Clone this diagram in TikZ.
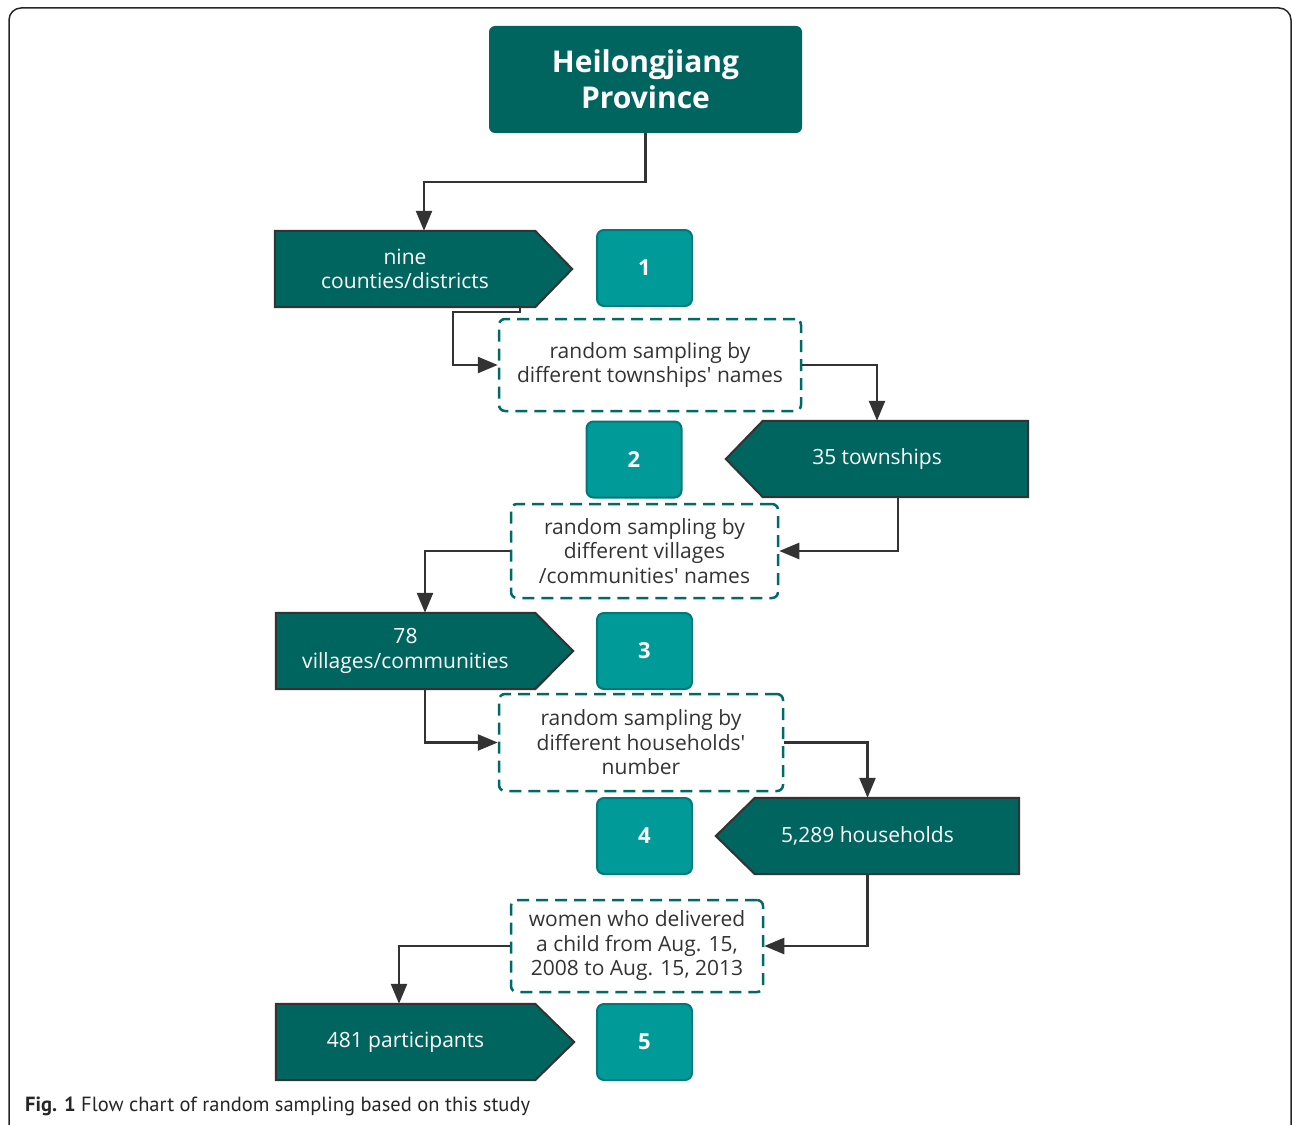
\documentclass[tikz,border=0pt]{standalone}
\usepackage{fontspec}
\setmainfont{Open Sans}
\newfontfamily\capfont{PT Sans}
\usetikzlibrary{arrows.meta,calc,backgrounds}
\definecolor{dteal}{HTML}{00645F}
\definecolor{lteal}{HTML}{009A98}
\definecolor{lborder}{HTML}{00787A}
\definecolor{dashc}{HTML}{006B66}
\definecolor{linec}{HTML}{333333}
\definecolor{txtc}{HTML}{333333}
\newcommand{\apos}{\textquotesingle}
\begin{document}
\begin{tikzpicture}[x=1pt,y=-1pt,
  body/.style={draw=none, minimum width=#1, minimum height=76pt, inner sep=0pt,
    text=white, align=center, font=\fontsize{21}{24.5}\selectfont},
  pent/.style={fill=dteal, draw=linec, line width=2pt},
  numbox/.style={fill=lteal, draw=lborder, line width=2pt, rounded corners=7pt,
    minimum width=95pt, minimum height=76pt, inner sep=0pt, text=white,
    font=\fontsize{22}{24}\selectfont\bfseries},
  dbox/.style={draw=dashc, line width=2.5pt, dash pattern=on 12pt off 7pt,
    rounded corners=6pt, minimum width=#1, inner sep=0pt, text=txtc,
    align=center, font=\fontsize{21}{24.5}\selectfont},
  conn/.style={draw=linec, line width=2.5pt, -{Triangle[length=20pt,width=16pt]}},
  title/.style={fill=dteal, rounded corners=6pt, minimum width=313pt,
    minimum height=107pt, inner sep=0pt, text=white, align=center,
    font=\fontsize{30}{36}\selectfont\bfseries}
]
\useasboundingbox (0,0) rectangle (1292,1124);
\draw[draw=black!85, line width=1.5pt, rounded corners=12pt] (9,8) rectangle (1291,1140);

\node[title] (prov) at (645.5,79.5) {Heilongjiang\\Province};

\node[body=260pt] (nine) at (405,269) {nine\\counties/districts};
\node[numbox] (n1) at (644.5,268) {1};
\node[dbox=302pt, minimum height=92pt] (d1) at (650,365) {random sampling by\\different townships\apos{} names};

\node[numbox] (n2) at (634,459.5) {2};
\node[body=302pt] (town) at (877,459) {35 townships};
\node[dbox=267pt, minimum height=94pt] (d2) at (644.5,551) {random sampling by\\different villages\\/communities\apos{} names};

\node[body=259pt] (vill) at (405.5,651) {78\\villages/communities};
\node[numbox] (n3) at (644.5,651) {3};
\node[dbox=284pt, minimum height=97pt] (d3) at (641,742.5) {random sampling by\\different households\apos\\number};

\node[numbox] (n4) at (644.5,836) {4};
\node[body=303pt] (hh) at (867.5,836) {5,289 households};
\node[dbox=252pt, minimum height=92pt] (d4) at (637,946) {women who delivered\\a child from Aug. 15,\\2008 to Aug. 15, 2013};

\node[body=259pt] (part) at (405.5,1042) {481 participants};
\node[numbox] (n5) at (644.5,1042) {5};

\begin{scope}[on background layer]
  \draw[pent] (nine.north west) -- (nine.north east) -- ($(nine.east)+(37,0)$) -- (nine.south east) -- (nine.south west) -- cycle;
  \draw[pent] (vill.north west) -- (vill.north east) -- ($(vill.east)+(38,0)$) -- (vill.south east) -- (vill.south west) -- cycle;
  \draw[pent] (part.north west) -- (part.north east) -- ($(part.east)+(39,0)$) -- (part.south east) -- (part.south west) -- cycle;
  \draw[pent] (town.west) -- ($(town.north west)+(37,0)$) -- (town.north east) -- (town.south east) -- ($(town.south west)+(37,0)$) -- cycle;
  \draw[pent] (hh.west) -- ($(hh.north west)+(39,0)$) -- (hh.north east) -- (hh.south east) -- ($(hh.south west)+(39,0)$) -- cycle;
\end{scope}

\coordinate (b1) at (424,182);
\draw[conn] (prov.south) |- (b1) -- (b1 |- nine.north);
\draw[conn] ($(nine.south east)+(-15,0)$) -- ++(0,5) -| (453,365) -- (d1.west);
\draw[conn] (d1.east) -| (town.north);
\draw[conn] ($(town.south)+(21,0)$) |- (d2.east);
\draw[conn] (d2.west) -| ($(vill.north)+(19.5,0)$);
\draw[conn] ($(vill.south)+(19.5,0)$) |- (d3.west);
\draw[conn] (d3.east) -| (hh.north);
\draw[conn] (hh.south) |- (d4.east);
\draw[conn] (d4.west) -| ($(part.north)+(-6.5,0)$);

\node[anchor=west, inner sep=0pt, text=black!85, font=\capfont\fontsize{20.5}{24}\selectfont] (cap) at (25,1106) {\textbf{Fig. 1} Flow chart of random sampling based on this study};
\end{tikzpicture}
\end{document}
